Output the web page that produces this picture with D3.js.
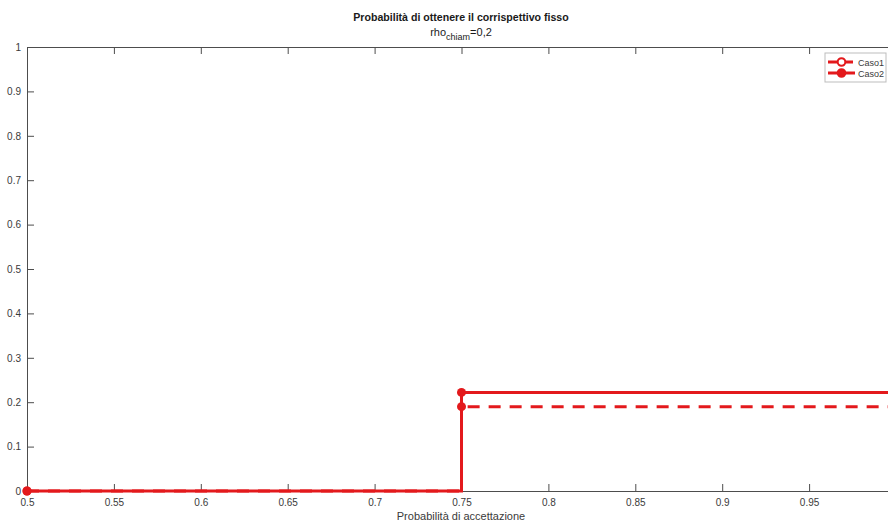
<!DOCTYPE html>
<html>
<head>
<meta charset="utf-8">
<script src="https://cdn.jsdelivr.net/npm/d3@7"></script>
<style>
  body { margin: 0; background: #fff; }
  text { font-family: "Liberation Sans", Arial, sans-serif; }
</style>
</head>
<body>
<div id="container"></div>
<script>
let w = 888;
let h = 523;

// data
let xValues = [0.5, 0.75, 1.0];
let caso1 = [0, 0.19, 0.19];
let caso2 = [0, 0.222, 0.222];
let xTicks = [0.5, 0.55, 0.6, 0.65, 0.7, 0.75, 0.8, 0.85, 0.9, 0.95, 1];
let yTicks = [0, 0.1, 0.2, 0.3, 0.4, 0.5, 0.6, 0.7, 0.8, 0.9, 1];
let seriesNames = ["Caso1", "Caso2"];

let plotLeft = 27, plotRight = 896, plotTop = 47, plotBottom = 491;
let red = "#e3191c";
let axisColor = "#4d4d4d";

let viz = d3.select("#container")
  .append("svg")
    .attr("width", w)
    .attr("height", h)
;

let xScale = d3.scaleLinear().domain([0.5, 1]).range([plotLeft, plotRight]);
let yScale = d3.scaleLinear().domain([0, 1]).range([plotBottom, plotTop]);

// axes (box style, ticks inside)
let fmt = function(d){ return d3.format("~g")(d); };
// the 1 label falls outside the window
let fmtX = function(d){ return d >= 1 ? "" : fmt(d); };

viz.append("g").attr("class","xaxis")
  .attr("transform","translate(0,"+plotBottom+")")
  .call(d3.axisBottom(xScale).tickValues(xTicks).tickSizeInner(-7).tickSizeOuter(0).tickPadding(8).tickFormat(fmtX));
viz.append("g").attr("class","xtop")
  .attr("transform","translate(0,"+plotTop+")")
  .call(d3.axisTop(xScale).tickValues(xTicks).tickSizeInner(-7).tickSizeOuter(0).tickFormat(""));
viz.append("g").attr("class","yaxis")
  .attr("transform","translate("+plotLeft+",0)")
  .call(d3.axisLeft(yScale).tickValues(yTicks).tickSizeInner(-7).tickSizeOuter(0).tickPadding(6).tickFormat(fmt));
viz.append("g").attr("class","yright")
  .attr("transform","translate("+plotRight+",0)")
  .call(d3.axisRight(yScale).tickValues(yTicks).tickSizeInner(-7).tickSizeOuter(0).tickFormat(""));

viz.selectAll(".xaxis, .xtop, .yaxis, .yright").selectAll("path, line")
  .attr("stroke", axisColor).attr("stroke-width", 1);
viz.selectAll(".xaxis text, .yaxis text")
  .attr("fill", "#3a3a3a").attr("font-size", 10)
  .attr("font-family", "Liberation Sans, Arial, sans-serif");

// clip
viz.append("clipPath").attr("id","plotclip")
  .append("rect").attr("x", plotLeft-10).attr("y", plotTop-10).attr("width", plotRight-plotLeft+20).attr("height", plotBottom-plotTop+20);

let vizGroup = viz.append("g").attr("clip-path","url(#plotclip)");

let stepLine = d3.line()
  .x(function(d,i){ return xScale(xValues[i]); })
  .y(function(d){ return yScale(d); })
  .curve(d3.curveStepAfter);

vizGroup.append("path")
  .datum(caso2)
  .attr("d", stepLine)
  .attr("fill","none")
  .attr("stroke", red)
  .attr("stroke-width", 3);

vizGroup.append("path")
  .datum(caso1)
  .attr("d", stepLine)
  .attr("fill","none")
  .attr("stroke", red)
  .attr("stroke-width", 3)
  .attr("stroke-dasharray", "12,9");

[caso1, caso2].forEach(function(series){
  vizGroup.selectAll(null)
    .data(series)
    .enter()
    .append("circle")
      .attr("cx", function(d,i){ return xScale(xValues[i]); })
      .attr("cy", function(d){ return yScale(d); })
      .attr("r", 4.5)
      .attr("fill", red);
});

// titles
viz.append("text")
  .text("Probabilità di ottenere il corrispettivo fisso")
  .attr("x", 461).attr("y", 21)
  .attr("text-anchor","middle")
  .attr("font-size", 10.6)
  .attr("font-weight","bold")
  .attr("fill","#1a1a1a");

let sub = viz.append("text")
  .attr("x", 461).attr("y", 36)
  .attr("text-anchor","middle")
  .attr("font-size", 11)
  .attr("fill","#1a1a1a");
sub.append("tspan").text("rho");
sub.append("tspan").text("chiam").attr("font-size", 9).attr("dy", 4);
sub.append("tspan").text("=0,2").attr("dy", -4);

viz.append("text")
  .text("Probabilità di accettazione")
  .attr("x", 461).attr("y", 520)
  .attr("text-anchor","middle")
  .attr("font-size", 11)
  .attr("fill","#3a3a3a");

// legend
let legend = viz.append("g").attr("transform","translate(825,53)");
legend.append("rect")
  .attr("width", 61).attr("height", 29)
  .attr("fill","#fff").attr("stroke","#bdbdbd").attr("stroke-width",1);

seriesNames.forEach(function(name,i){
  let y = 9 + i*11;
  legend.append("line")
    .attr("x1", 3).attr("x2", 30).attr("y1", y).attr("y2", y)
    .attr("stroke", red).attr("stroke-width", 3)
    .attr("stroke-dasharray", i === 0 ? "10,5" : null);
  legend.append("circle")
    .attr("cx", 16.5).attr("cy", y).attr("r", 3.8)
    .attr("fill", i === 0 ? "#fff" : red)
    .attr("stroke", red).attr("stroke-width", 2);
  legend.append("text")
    .text(name)
    .attr("x", 33).attr("y", y + 3.5)
    .attr("font-size", 9)
    .attr("fill","#3a3a3a");
});
</script>
</body>
</html>
